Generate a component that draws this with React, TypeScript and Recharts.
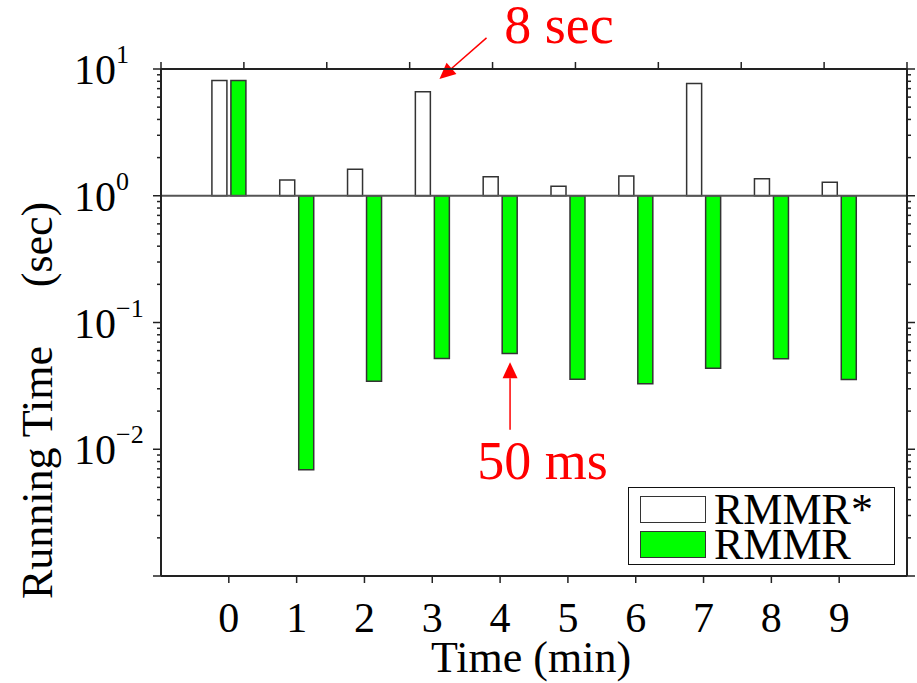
import React from 'react';
import {
  BarChart, Bar, XAxis, YAxis, ReferenceLine, ReferenceDot, Legend, Label,
} from 'recharts';

const SERIF = '"Liberation Serif", "Times New Roman", serif';

// running time per minute, seconds (log scale, bars hang from 1 s)
const minutes = [0, 1, 2, 3, 4, 5, 6, 7, 8, 9];
const rmmrStar = [8.1, 1.33, 1.62, 6.6, 1.41, 1.19, 1.43, 7.7, 1.36, 1.28];
const rmmr = [8.1, 0.0069, 0.0344, 0.052, 0.057, 0.0357, 0.0328, 0.0436, 0.0517, 0.0355];
const seriesNames = ['RMMR*', 'RMMR'];
const baseline = 1;

const xDomain = [-1, 10];
const yDomain = [0.001, 10];
const decades = [0.001, 0.01, 0.1, 1];
const mantissas = [1, 2, 3, 4, 5, 6, 7, 8, 9];
const yTicks = [...decades.flatMap(d => mantissas.map(m => +(d * m).toPrecision(3))), 10];

// red call-outs
const secArrow = [{ x: 3.8, y: 17.6 }, { x: 3.106, y: 8.34 }];
const secLabel = { x: 4.87, y: 16.1, text: '8 sec' };
const msArrow = [{ x: 4.147, y: 0.01426 }, { x: 4.147, y: 0.0486 }];
const msLabel = { x: 4.626, y: 0.00585, text: '50 ms' };

const rows = minutes.map((m, i) => ({
  minute: m,
  starRange: [baseline, rmmrStar[i]],
  rmmrRange: [baseline, rmmr[i]],
}));

function YTick({ x, y, payload, showLabel, side }: any) {
  const v = payload.value;
  const lg = Math.log10(v);
  const exp = Math.round(lg);
  const major = Math.abs(lg - exp) < 1e-6;
  const len = major ? 8 : 4;
  const dir = side === 'right' ? 1 : -1;
  return (
    <g>
      <line x1={x} x2={x + dir * len} y1={y} y2={y} stroke="#222" strokeWidth={1.5} />
      {showLabel && major && exp > -3 && (
        <text x={x - 87} y={y + 15} fontSize={42} fontFamily={SERIF} fill="#000">
          10
          <tspan dy={-21} fontSize={26}>{exp < 0 ? `\u2212${-exp}` : `${exp}`}</tspan>
        </text>
      )}
    </g>
  );
}

function XTick({ x, y, payload }: any) {
  return (
    <text x={x} y={y + 49} textAnchor="middle" fontSize={42} fontFamily={SERIF} fill="#000">
      {payload.value}
    </text>
  );
}

function ArrowShape({ x1, y1, x2, y2 }: any) {
  const dx = x2 - x1;
  const dy = y2 - y1;
  const len = Math.hypot(dx, dy) || 1;
  const ux = dx / len;
  const uy = dy / len;
  const hl = 16;
  const hw = 7.5;
  const bx = x2 - ux * hl;
  const by = y2 - uy * hl;
  return (
    <g>
      <line x1={x1} y1={y1} x2={bx} y2={by} stroke="#ff0000" strokeWidth={1.5} />
      <polygon
        points={`${x2},${y2} ${bx - uy * hw},${by + ux * hw} ${bx + uy * hw},${by - ux * hw}`}
        fill="#ff0000"
      />
    </g>
  );
}

const redText = (text: string) => ({ cx, cy }: any) => (
  <text x={cx} y={cy} textAnchor="middle" fontSize={54} fontFamily={SERIF} fill="#ff0000">
    {text}
  </text>
);

function LegendBox({ payload }: any) {
  const items = [...(payload || [])].sort(
    (a: any, b: any) => seriesNames.indexOf(a.value) - seriesNames.indexOf(b.value),
  );
  return (
    <div style={{
      width: 267, height: 78, boxSizing: 'border-box', border: '1.5px solid #111',
      background: '#fff', padding: '4px 0 0 11px',
    }}>
      {items.map((e: any) => (
        <div key={e.value} style={{ display: 'flex', alignItems: 'center', height: 35 }}>
          <span style={{
            width: 66, height: 27, boxSizing: 'border-box', background: e.color,
            border: '1.5px solid #333', display: 'inline-block',
          }} />
          <span style={{
            marginLeft: 8, fontSize: 44, lineHeight: '35px', fontFamily: SERIF, color: '#000',
          }}>{e.value}</span>
        </div>
      ))}
    </div>
  );
}

function YTitle({ viewBox }: any) {
  const cy = viewBox.y + viewBox.height / 2;
  return (
    <g fontFamily={SERIF} fontSize={44} fill="#000">
      <text transform={`translate(52, ${cy + 150}) rotate(-90)`} textAnchor="middle">Running Time</text>
      <text transform={`translate(52, ${cy - 78}) rotate(-90)`} textAnchor="middle">(sec)</text>
    </g>
  );
}

function XTitle({ viewBox }: any) {
  return (
    <text x={viewBox.x + viewBox.width / 2 - 3} y={672} textAnchor="middle"
      fontFamily={SERIF} fontSize={44} fill="#000">
      Time (min)
    </text>
  );
}

const axisLine = { stroke: '#222', strokeWidth: 2 };
const tickLine = { stroke: '#222', strokeWidth: 1.5 };

export default function App() {
  return (
    <div style={{ position: 'absolute', left: 0, top: 0, background: '#fff' }}>
      <BarChart
        width={917}
        height={683}
        data={rows}
        margin={{ top: 68, right: 9, bottom: 106, left: 160 }}
        barGap={4}
      >
        <XAxis
          dataKey="minute" type="number" domain={xDomain} ticks={minutes} interval={0}
          allowDataOverflow height={1} tickSize={7} tickMargin={0}
          axisLine={axisLine} tickLine={tickLine} tick={XTick}
        >
          <Label content={XTitle} />
        </XAxis>
        <XAxis
          xAxisId="top" orientation="top" type="number" domain={xDomain} ticks={minutes}
          interval={0} allowDataOverflow height={1} tickSize={7} tickMargin={0}
          axisLine={axisLine} tickLine={tickLine} tick={() => <g />}
        />
        <YAxis
          scale="log" type="number" domain={yDomain} ticks={yTicks} interval={0}
          allowDataOverflow width={1} tickSize={0} tickMargin={0}
          axisLine={axisLine} tickLine={false}
          tick={(p: any) => <YTick {...p} showLabel side="left" />}
        >
          <Label content={YTitle} />
        </YAxis>
        <YAxis
          yAxisId="right" orientation="right" scale="log" type="number" domain={yDomain}
          ticks={yTicks} interval={0} allowDataOverflow width={1} tickSize={0} tickMargin={0}
          axisLine={axisLine} tickLine={false}
          tick={(p: any) => <YTick {...p} side="right" />}
        />
        <Bar dataKey="starRange" name={seriesNames[0]} fill="#ffffff" stroke="#333"
          strokeWidth={1.5} barSize={15} isAnimationActive={false} />
        <Bar dataKey="rmmrRange" name={seriesNames[1]} fill="#00ff00" stroke="#333"
          strokeWidth={1.5} barSize={15} isAnimationActive={false} />
        <ReferenceLine y={baseline} stroke="#555" strokeWidth={2} />
        <ReferenceLine segment={secArrow} ifOverflow="visible" shape={ArrowShape} />
        <ReferenceLine segment={msArrow} ifOverflow="visible" shape={ArrowShape} />
        <ReferenceDot x={secLabel.x} y={secLabel.y} ifOverflow="visible" shape={redText(secLabel.text)} />
        <ReferenceDot x={msLabel.x} y={msLabel.y} ifOverflow="visible" shape={redText(msLabel.text)} />
        <Legend
          layout="horizontal" verticalAlign="middle" align="center"
          wrapperStyle={{ left: 628, top: 487, width: 267, height: 78 }}
          content={LegendBox}
        />
      </BarChart>
    </div>
  );
}
